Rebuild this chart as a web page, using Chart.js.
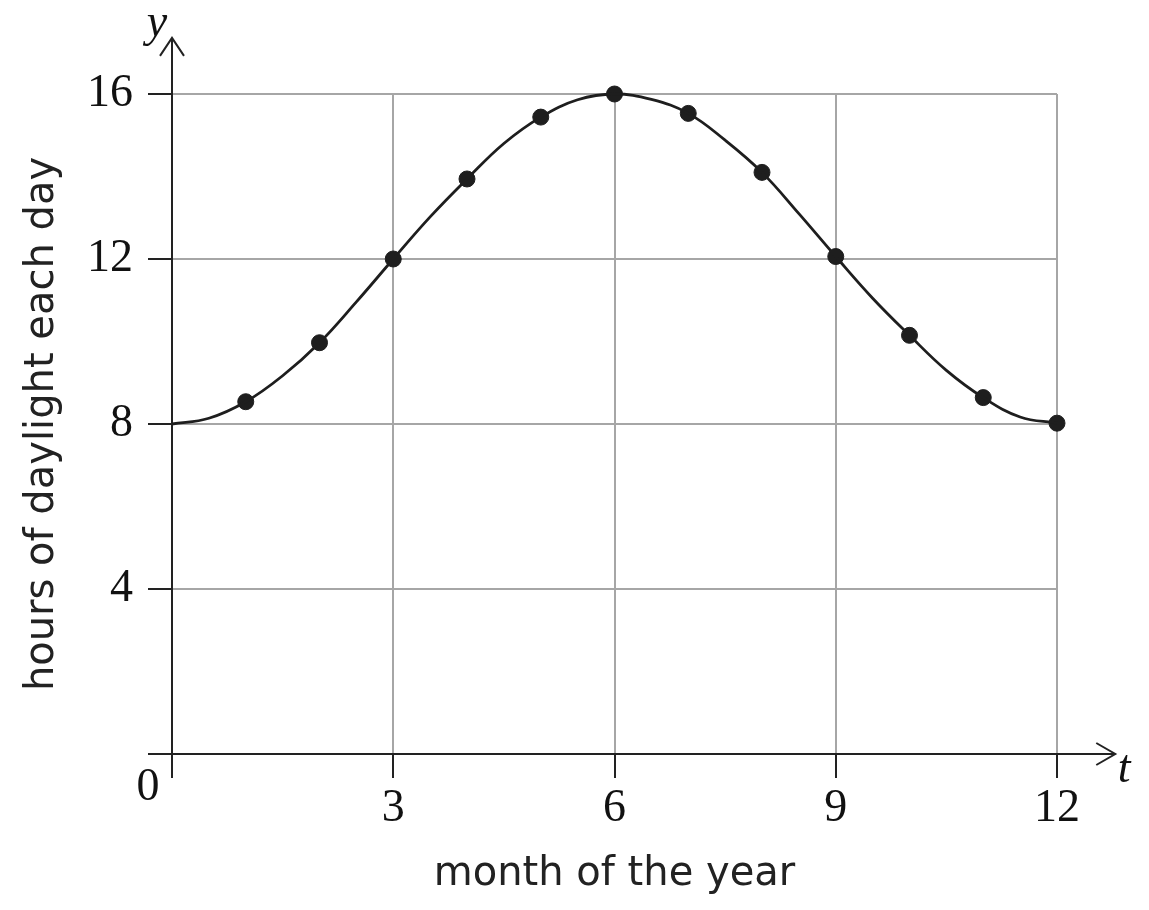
<!DOCTYPE html>
<html>
<head>
<meta charset="utf-8">
<script src="https://cdn.jsdelivr.net/npm/chart.js@4"></script>
<style>
  html, body { margin: 0; padding: 0; background: #ffffff; }
  #wrap { width: 1149px; height: 910px; }
</style>
</head>
<body>
<div id="wrap"><canvas id="c" width="1149" height="910"></canvas></div>
<script>
// Monthly measurements (dots)
const months = [1, 2, 3, 4, 5, 6, 7, 8, 9, 10, 11, 12];
const daylight = [8.54, 9.97, 12.0, 13.94, 15.44, 16.0, 15.53, 14.1, 12.06, 10.15, 8.64, 8.02];

// Smooth model curve, every half month
const curveT = [0, 0.5, 1, 1.5, 2, 2.5, 3, 3.5, 4, 4.5, 5, 5.5, 6, 6.5, 7, 7.5, 8, 8.5, 9, 9.5, 10, 10.5, 11, 11.5, 12];
const curveY = [8.0, 8.14, 8.54, 9.17, 9.97, 10.96, 12.0, 13.02, 13.94, 14.8, 15.44, 15.86, 16.0, 15.87, 15.53, 14.88, 14.1, 13.1, 12.06, 11.05, 10.15, 9.3, 8.64, 8.17, 8.02];

// Axis ticks
const xTicks = [3, 6, 9, 12];
const yTicks = [4, 8, 12, 16];
const xMax = 12, yMax = 16;
const xTitle = 'month of the year';
const yTitle = 'hours of daylight each day';

const AXIS = '#222222';
const GRID = '#a6a6a6';

const axesPlugin = {
  id: 'axesArrows',
  beforeDatasetsDraw(chart) {
    const ctx = chart.ctx;
    const xs = chart.scales.x, ys = chart.scales.y;
    const x0 = xs.getPixelForValue(0), y0 = ys.getPixelForValue(0);
    const xEnd = xs.getPixelForValue(12.79);
    const yEnd = ys.getPixelForValue(17.36);
    ctx.save();
    ctx.strokeStyle = AXIS;
    ctx.lineWidth = 2;
    ctx.lineCap = 'butt';
    // x axis
    ctx.beginPath();
    ctx.moveTo(x0 - 24, y0);
    ctx.lineTo(xEnd, y0);
    ctx.stroke();
    // y axis
    ctx.beginPath();
    ctx.moveTo(x0, y0 + 24);
    ctx.lineTo(x0, yEnd);
    ctx.stroke();
    // arrow heads (open chevrons)
    ctx.beginPath();
    ctx.moveTo(xEnd - 19, y0 - 11);
    ctx.lineTo(xEnd, y0);
    ctx.lineTo(xEnd - 19, y0 + 11);
    ctx.stroke();
    ctx.beginPath();
    ctx.moveTo(x0 - 12, yEnd + 18);
    ctx.lineTo(x0, yEnd);
    ctx.lineTo(x0 + 12, yEnd + 18);
    ctx.stroke();
    // labels
    ctx.fillStyle = '#111111';
    ctx.textAlign = 'center';
    ctx.textBaseline = 'alphabetic';
    ctx.font = '46px "Liberation Serif", "Times New Roman", serif';
    ctx.fillText('0', x0 - 24, y0 + 46);
    ctx.font = 'italic 46px "Liberation Serif", "Times New Roman", serif';
    ctx.fillText('y', x0 - 15, yEnd - 2);
    ctx.fillText('t', xEnd + 9, y0 + 28);
    ctx.restore();
  }
};

new Chart(document.getElementById('c'), {
  type: 'scatter',
  data: {
    datasets: [
      {
        type: 'line',
        data: curveT.map((t, i) => ({ x: t, y: curveY[i] })),
        borderColor: '#1e1e1e',
        borderWidth: 2.8,
        pointRadius: 0,
        tension: 0.4,
        fill: false,
        clip: false
      },
      {
        data: months.map((m, i) => ({ x: m, y: daylight[i] })),
        backgroundColor: '#1e1e1e',
        borderColor: '#1e1e1e',
        borderWidth: 1,
        pointRadius: 8,
        clip: false
      }
    ]
  },
  options: {
    responsive: false,
    animation: false,
    devicePixelRatio: 1,
    layout: { padding: { left: 0, right: 92, top: 94, bottom: 0 } },
    plugins: { legend: { display: false }, tooltip: { enabled: false } },
    scales: {
      x: {
        type: 'linear',
        min: 0, max: xMax,
        afterFit: s => { s.height = 156; },
        afterBuildTicks: s => { s.ticks = [0].concat(xTicks).map(v => ({ value: v })); },
        ticks: {
          autoSkip: false,
          maxRotation: 0,
          padding: 3,
          color: '#111111',
          font: { family: '"Liberation Serif", "Times New Roman", serif', size: 46 },
          callback: v => (v === 0 ? '' : String(v))
        },
        grid: {
          color: GRID,
          lineWidth: 2,
          tickColor: AXIS,
          tickWidth: 2,
          tickLength: 24
        },
        border: { display: false },
        title: {
          display: true,
          text: xTitle,
          color: '#222222',
          font: { family: '"DejaVu Sans", sans-serif', size: 40 },
          padding: { top: 0, bottom: 11 }
        }
      },
      y: {
        type: 'linear',
        min: 0, max: yMax,
        afterFit: s => { s.width = 172; },
        afterBuildTicks: s => { s.ticks = [0].concat(yTicks).map(v => ({ value: v })); },
        ticks: {
          autoSkip: false,
          padding: 15,
          color: '#111111',
          font: { family: '"Liberation Serif", "Times New Roman", serif', size: 46 },
          callback: v => (v === 0 ? '' : String(v))
        },
        grid: {
          color: GRID,
          lineWidth: 2,
          tickColor: AXIS,
          tickWidth: 2,
          tickLength: 24
        },
        border: { display: false },
        title: {
          display: true,
          text: yTitle,
          color: '#222222',
          font: { family: '"DejaVu Sans", sans-serif', size: 40 },
          padding: { top: 19, bottom: 0 }
        }
      }
    }
  },
  plugins: [axesPlugin]
});
</script>
</body>
</html>
